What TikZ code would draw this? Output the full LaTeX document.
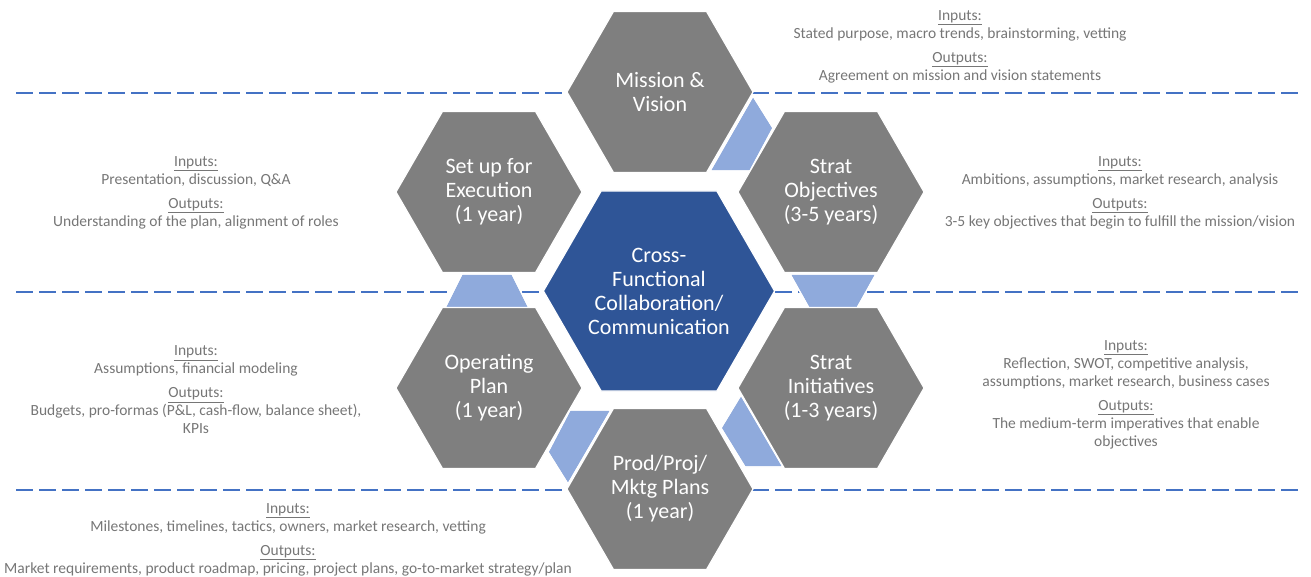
\documentclass[tikz,border=0pt]{standalone}
\usepackage{fontspec}
\setmainfont{Carlito}
\usetikzlibrary{shapes.geometric}

\definecolor{cellgray}{RGB}{127,127,127}
\definecolor{coreblue}{RGB}{47,85,151}
\definecolor{linkblue}{RGB}{143,170,220}
\definecolor{lineblue}{RGB}{68,114,196}
\definecolor{notegray}{RGB}{118,118,118}

\tikzset{
    cell/.style={regular polygon, regular polygon sides=6, minimum size=186pt,
        inner sep=0pt, fill=cellgray, draw=white, line width=1.2pt,
        text=white, align=center, font=\fontsize{22}{24}\selectfont},
    note/.style={align=center, text=notegray, font=\fontsize{15.5}{18}\selectfont},
    link/.style={fill=linkblue, draw=white, line width=1.2pt},
    divider/.style={lineblue, line width=2.2pt, dash pattern=on 17pt off 6pt},
}

\begin{document}
\begin{tikzpicture}[x=1pt,y=-1pt]
    \useasboundingbox (0,0) rectangle (1311,577);

    % horizontal separators
    \foreach \y in {93,292,490}
        \draw[divider] (16,\y) -- (1300,\y);

    % links between the cells
    \fill[link] (753,96) -- (773,128) -- (750,171) -- (710,171) -- cycle;
    \fill[link] (790,274) -- (876,274) -- (857,308) -- (809,308) -- cycle;
    \fill[link] (741,395) -- (783,467) -- (745,467) -- (721,428) -- cycle;
    \fill[link] (570,410) -- (611,410) -- (568,484) -- (548,452) -- cycle;
    \fill[link] (462,274) -- (512,274) -- (529,308) -- (445,308) -- cycle;
    \draw[draw=white, line width=1.2pt]
        (753,96) -- (773,128) -- (750,171) -- (710,171) -- cycle
        (790,274) -- (876,274) -- (857,308) -- (809,308) -- cycle
        (741,395) -- (783,467) -- (745,467) -- (721,428) -- cycle
        (570,410) -- (611,410) -- (568,484) -- (548,452) -- cycle
        (462,274) -- (512,274) -- (529,308) -- (445,308) -- cycle;

    % honeycomb
    \node[cell, fill=coreblue, minimum size=227pt] (core) at (659,291)
        {Cross-\\Functional\\Collaboration/\\Communication};
    \node[cell] (mission) at (660,92) {Mission \&\\Vision};
    \node[cell] (objectives) at (831,192) {Strat\\Objectives\\(3-5 years)};
    \node[cell] (initiatives) at (831,388) {Strat\\Initiatives\\(1-3 years)};
    \node[cell] (plans) at (660,489) {Prod/Proj/\\Mktg Plans\\(1 year)};
    \node[cell] (operating) at (489,388) {Operating\\Plan\\(1 year)};
    \node[cell] (setup) at (489,192) {Set up for\\Execution\\(1 year)};

    % inputs and outputs
    \node[note] (missionio) at (960,47)
        {\underline{Inputs:}\\Stated purpose, macro trends, brainstorming, vetting\\[6pt]
         \underline{Outputs:}\\Agreement on mission and vision statements};
    \node[note] (objectivesio) at (1120,193)
        {\underline{Inputs:}\\Ambitions, assumptions, market research, analysis\\[6pt]
         \underline{Outputs:}\\3-5 key objectives that begin to fulfill the mission/vision};
    \node[note] (initiativesio) at (1126,395)
        {\underline{Inputs:}\\Reflection, SWOT, competitive analysis,\\assumptions, market research, business cases\\[6pt]
         \underline{Outputs:}\\The medium-term imperatives that enable\\objectives};
    \node[note] (plansio) at (288,539.5)
        {\underline{Inputs:}\\Milestones, timelines, tactics, owners, market research, vetting\\[6pt]
         \underline{Outputs:}\\Market requirements, product roadmap, pricing, project plans, go-to-market strategy/plan};
    \node[note] (operatingio) at (196,390)
        {\underline{Inputs:}\\Assumptions, financial modeling\\[6pt]
         \underline{Outputs:}\\Budgets, pro-formas (P\&L, cash-flow, balance sheet),\\KPIs};
    \node[note] (setupio) at (196,193)
        {\underline{Inputs:}\\Presentation, discussion, Q\&A\\[6pt]
         \underline{Outputs:}\\Understanding of the plan, alignment of roles};
\end{tikzpicture}
\end{document}
